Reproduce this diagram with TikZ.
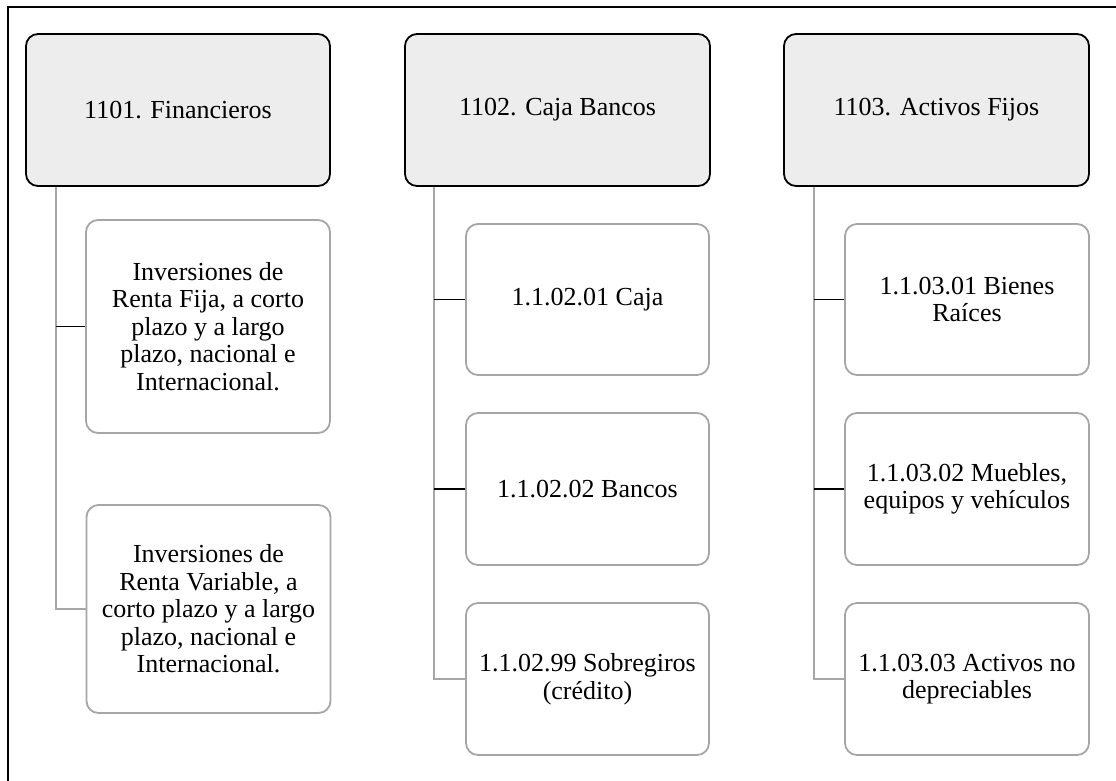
\documentclass[tikz,border=0pt]{standalone}
\usepackage{fontspec}
\setmainfont{Liberation Serif}
\definecolor{hdrfill}{HTML}{EDEDED}
\definecolor{linegray}{HTML}{A6A6A6}
\tikzset{
  hdrbox/.style={draw=black, line width=1.8pt, fill=hdrfill, rounded corners=12pt,
    minimum height=152pt, inner sep=0pt, align=center,
    font=\fontsize{26}{27.5}\selectfont},
  childbox/.style={draw=linegray, line width=1.8pt, fill=white, rounded corners=12pt,
    inner sep=0pt, align=center, font=\fontsize{26}{27.5}\selectfont},
  trunk/.style={draw=linegray, line width=1.8pt},
  tick/.style={draw=black, line width=1.8pt},
  frameline/.style={draw=black, line width=2pt}
}
\begin{document}
\begin{tikzpicture}[x=1pt, y=-1pt]
\useasboundingbox (0,0) rectangle (1116,780);
% outer frame (cropped: only top and left edges visible)
\coordinate (fbl) at (8,782);
\coordinate (ftl) at (8,7);
\coordinate (ftr) at (1118,7);
\draw[frameline] (fbl) -- (ftl) -- (ftr);

% headers
\node[hdrbox, minimum width=304pt] (h1) at (178,110) {1101. Financieros};
\node[hdrbox, minimum width=305pt] (h2) at (557.5,110) {1102. Caja Bancos};
\node[hdrbox, minimum width=305pt] (h3) at (936.5,110) {1103. Activos Fijos};

% column 1 children
\node[childbox, minimum width=244pt, minimum height=213pt] (c11) at (208,326.5)
  {Inversiones de\\Renta Fija, a corto\\plazo y a largo\\plazo, nacional e\\Internacional.};
\node[childbox, minimum width=244pt, minimum height=208pt] (c12) at (208.5,609)
  {Inversiones de\\Renta Variable, a\\corto plazo y a largo\\plazo, nacional e\\Internacional.};

% column 2 children
\node[childbox, minimum width=243pt, minimum height=151pt] (c21) at (587.5,299.5) {1.1.02.01 Caja};
\node[childbox, minimum width=243pt, minimum height=152pt] (c22) at (587.5,489) {1.1.02.02 Bancos};
\node[childbox, minimum width=243pt, minimum height=152pt] (c23) at (587.5,679) {1.1.02.99 Sobregiros\\(crédito)};

% column 3 children
\node[childbox, minimum width=244pt, minimum height=151pt] (c31) at (967,299.5) {1.1.03.01 Bienes\\Raíces};
\node[childbox, minimum width=244pt, minimum height=152pt] (c32) at (967,489) {1.1.03.02 Muebles,\\equipos y vehículos};
\node[childbox, minimum width=244pt, minimum height=152pt] (c33) at (967,679) {1.1.03.03 Activos no\\depreciables};

% trunks
\coordinate (t1) at ([xshift=31pt]h1.south west);
\coordinate (t2) at ([xshift=30pt]h2.south west);
\coordinate (t3) at ([xshift=31pt]h3.south west);
\draw[trunk] (t1) |- (c12.west);
\draw[trunk] (t2) |- (c23.west);
\draw[trunk] (t3) |- (c33.west);

% ticks
\draw[tick] (c11.west -| t1) -- (c11.west);
\draw[tick] (c21.west -| t2) -- (c21.west);
\draw[tick] (c22.west -| t2) -- (c22.west);
\draw[tick] (c31.west -| t3) -- (c31.west);
\draw[tick] (c32.west -| t3) -- (c32.west);
\end{tikzpicture}
\end{document}
